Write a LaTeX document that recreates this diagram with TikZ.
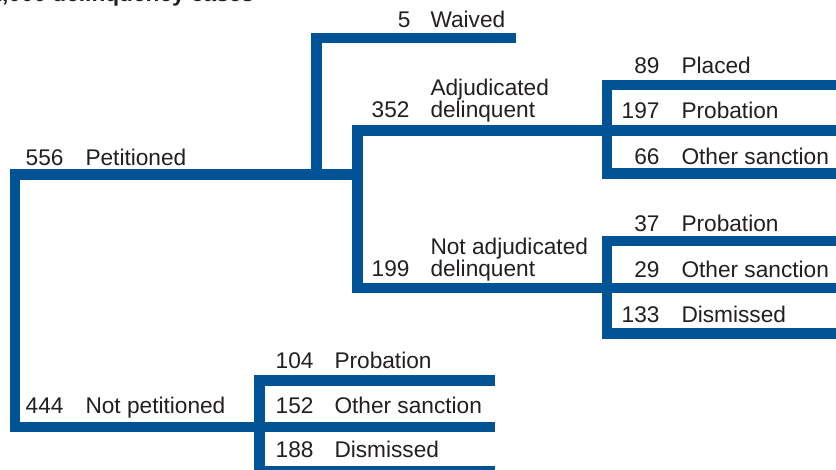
\documentclass[tikz,border=0pt]{standalone}
\usepackage{fontspec}
\setmainfont{Liberation Sans}
\definecolor{treeblue}{RGB}{0,83,148}
\definecolor{txtgray}{RGB}{35,31,32}

\tikzset{every picture/.style={line width=0.75pt}}
\tikzset{
  branch/.style={draw=treeblue, line width=7.9pt, line join=miter},
  num/.style={anchor=base east, inner sep=0pt, text=txtgray, font=\fontsize{17}{20}\selectfont},
  lab/.style={anchor=base west, inner sep=0pt, text=txtgray, font=\fontsize{17}{20}\selectfont}
}

\begin{document}
\begin{tikzpicture}[x=0.75pt,y=0.75pt,yscale=-1,xscale=1]
\useasboundingbox (0,0) rectangle (836,470);
\clip (0,0) rectangle (836,470);

% Title (cut at top)
\node (title) at (-11,2) [anchor=base west, inner sep=0pt, text=txtgray, font=\fontsize{17}{20}\selectfont\bfseries] {1,000 delinquency cases};

% Junctions
\coordinate (petitioned) at (357.5,174.5);
\coordinate (waivefork) at (316.5,174.5);
\coordinate (waived) at (516,38);
\coordinate (notpet) at (15,427);
\coordinate (notpetend) at (495,427);
\coordinate (adjend) at (845,130.5);
\coordinate (nadj) at (357.5,288);
\coordinate (nadjend) at (845,288);
\coordinate (placedend) at (845,85);
\coordinate (adjlow) at (607,173.5);
\coordinate (adjlowend) at (845,173.5);
\coordinate (nadjtopend) at (845,241);
\coordinate (nadjlow) at (607,333.5);
\coordinate (nadjlowend) at (845,333.5);
\coordinate (nptopend) at (495,380.5);
\coordinate (nplow) at (259.5,471);
\coordinate (nplowend) at (495,471);

%Shape: Tree branches
\draw[branch] (petitioned) -| (notpet) -- (notpetend);
\draw[branch] (waivefork) |- (waived);
\draw[branch] (adjend) -| (nadj) -- (nadjend);
\draw[branch] (placedend) -| (adjlow) -- (adjlowend);
\draw[branch] (nadjtopend) -| (nadjlow) -- (nadjlowend);
\draw[branch] (nptopend) -| (nplow) -- (nplowend);

% Text Node
\node (n5) at (411,28) [num] {5};
\node (t5) at (430,28) [lab] {Waived};
% Text Node
\node (n556) at (64,166) [num] {556};
\node (t556) at (85,166) [lab] {Petitioned};
% Text Node
\node (n352) at (410,118) [num] {352};
\node (t352a) at (430,96) [lab] {Adjudicated};
\node (t352b) at (430,118) [lab] {delinquent};
% Text Node
\node (n199) at (410,277) [num] {199};
\node (t199a) at (430,255) [lab] {Not adjudicated};
\node (t199b) at (430,277) [lab] {delinquent};
% Text Node
\node (n89) at (660,74) [num] {89};
\node (t89) at (681,74) [lab] {Placed};
\node (n197) at (660,119) [num] {197};
\node (t197) at (681,119) [lab] {Probation};
\node (n66) at (660,165) [num] {66};
\node (t66) at (681,165) [lab] {Other sanction};
% Text Node
\node (n37) at (660,232) [num] {37};
\node (t37) at (681,232) [lab] {Probation};
\node (n29) at (660,278) [num] {29};
\node (t29) at (681,278) [lab] {Other sanction};
\node (n133) at (660,323) [num] {133};
\node (t133) at (681,323) [lab] {Dismissed};
% Text Node
\node (n444) at (64,413) [num] {444};
\node (t444) at (85,413) [lab] {Not petitioned};
% Text Node
\node (n104) at (314,369) [num] {104};
\node (t104) at (334,369) [lab] {Probation};
\node (n152) at (314,413) [num] {152};
\node (t152) at (334,413) [lab] {Other sanction};
\node (n188) at (314,458) [num] {188};
\node (t188) at (334,458) [lab] {Dismissed};

\end{tikzpicture}
\end{document}
